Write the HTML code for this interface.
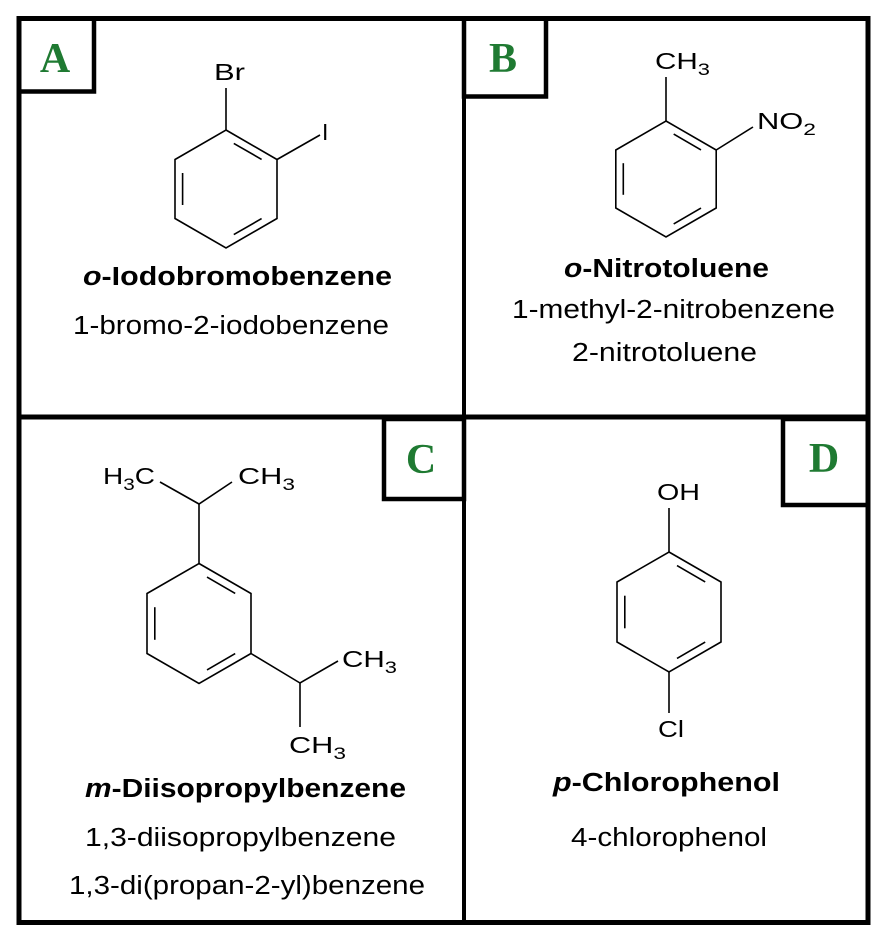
<!DOCTYPE html>
<html><head><meta charset="utf-8"><style>
html,body{margin:0;padding:0;background:#fff;}
svg{display:block;}
.t{font-family:"Liberation Sans",Arial,sans-serif;fill:#000;}
.L{font-family:"Liberation Serif",serif;font-weight:bold;fill:#1f7a32;font-size:42px;}
</style></head><body>
<svg width="893" height="949" viewBox="0 0 893 949" xmlns="http://www.w3.org/2000/svg">
<rect width="893" height="949" fill="#fff"/>
<g fill="none" stroke="#000" stroke-linecap="square">
<rect x="19" y="18.5" width="849" height="904" stroke-width="5"/>
<line x1="464" y1="18" x2="464" y2="922" stroke-width="4"/>
<line x1="19" y1="417" x2="868" y2="417" stroke-width="5"/>
<rect x="19" y="18.5" width="75" height="73" stroke-width="4.5"/>
<rect x="464" y="18.5" width="82" height="78" stroke-width="4.5"/>
<rect x="384" y="419" width="80" height="80" stroke-width="4.5"/>
<rect x="783" y="419" width="85" height="86" stroke-width="4.5"/>
</g>
<text class="L" x="55" y="72" text-anchor="middle">A</text>
<text class="L" x="503" y="72" text-anchor="middle">B</text>
<text class="L" x="421" y="473" text-anchor="middle">C</text>
<text class="L" x="824" y="472" text-anchor="middle">D</text>

<g fill="none" stroke="#000" stroke-width="1.6">
<polygon points="226,130 277,159.5 277,218.5 226,248 175,218.5 175,159.5"/>
<line x1="233.8" y1="143.4" x2="261.6" y2="159.4"/>
<line x1="182.6" y1="173" x2="182.6" y2="205"/>
<line x1="261.6" y1="218.6" x2="233.8" y2="234.6"/>
<line x1="226" y1="130" x2="226" y2="88"/>
<line x1="277" y1="159.5" x2="320" y2="135"/>
<polygon points="666,121 716.2,150 716.2,208 666,237 615.8,208 615.8,150"/>
<line x1="673.7" y1="134.1" x2="701" y2="149.9"/>
<line x1="623.3" y1="163.2" x2="623.3" y2="194.8"/>
<line x1="701" y1="208.1" x2="673.7" y2="223.9"/>
<line x1="666" y1="121" x2="666" y2="77"/>
<line x1="716.2" y1="150" x2="753" y2="127"/>
<polygon points="199,563.5 251,593.5 251,653.5 199,683.5 147,653.5 147,593.5"/>
<line x1="207" y1="577.1" x2="235.2" y2="593.4"/>
<line x1="154.8" y1="607.2" x2="154.8" y2="639.8"/>
<line x1="235.2" y1="653.6" x2="207" y2="669.9"/>
<line x1="199" y1="563.5" x2="199" y2="504"/>
<polyline points="160,482 199,504 232,482"/>
<polyline points="251,653.5 300,683 338,661"/>
<line x1="300" y1="683" x2="300" y2="727"/>
<polygon points="669,552 721,582 721,642 669,672 617,642 617,582"/>
<line x1="677" y1="565.6" x2="705.2" y2="581.9"/>
<line x1="624.8" y1="595.7" x2="624.8" y2="628.3"/>
<line x1="705.2" y1="642.1" x2="677" y2="658.4"/>
<line x1="669" y1="552" x2="669" y2="508"/>
<line x1="669" y1="672" x2="669" y2="713"/>
</g>

<g class="t" font-size="23">
<text x="214" y="80" textLength="31" lengthAdjust="spacingAndGlyphs">Br</text>
<text x="322" y="140">I</text>
<text x="655" y="69" textLength="55" lengthAdjust="spacingAndGlyphs">CH<tspan font-size="17" dy="6">3</tspan></text>
<text x="757" y="129" textLength="59" lengthAdjust="spacingAndGlyphs">NO<tspan font-size="17" dy="6">2</tspan></text>
<text x="103" y="484" textLength="52" lengthAdjust="spacingAndGlyphs">H<tspan font-size="17" dy="6">3</tspan><tspan dy="-6">C</tspan></text>
<text x="238" y="484" textLength="57" lengthAdjust="spacingAndGlyphs">CH<tspan font-size="17" dy="6">3</tspan></text>
<text x="342" y="667" textLength="55" lengthAdjust="spacingAndGlyphs">CH<tspan font-size="17" dy="6">3</tspan></text>
<text x="289" y="753" textLength="57" lengthAdjust="spacingAndGlyphs">CH<tspan font-size="17" dy="6">3</tspan></text>
<text x="657" y="500" textLength="43" lengthAdjust="spacingAndGlyphs">OH</text>
<text x="658" y="737" textLength="26" lengthAdjust="spacingAndGlyphs">Cl</text>
</g>

<g class="t" font-size="25.5">
<text x="83" y="285" font-weight="bold" textLength="309" lengthAdjust="spacingAndGlyphs"><tspan font-style="italic">o</tspan>-Iodobromobenzene</text>
<text x="73" y="334" textLength="316" lengthAdjust="spacingAndGlyphs">1-bromo-2-iodobenzene</text>
<text x="564" y="277" font-weight="bold" textLength="205" lengthAdjust="spacingAndGlyphs"><tspan font-style="italic">o</tspan>-Nitrotoluene</text>
<text x="512" y="318" textLength="323" lengthAdjust="spacingAndGlyphs">1-methyl-2-nitrobenzene</text>
<text x="572" y="361" textLength="185" lengthAdjust="spacingAndGlyphs">2-nitrotoluene</text>
<text x="85" y="797" font-weight="bold" textLength="321" lengthAdjust="spacingAndGlyphs"><tspan font-style="italic">m</tspan>-Diisopropylbenzene</text>
<text x="85" y="846" textLength="311" lengthAdjust="spacingAndGlyphs">1,3-diisopropylbenzene</text>
<text x="69" y="894" textLength="356" lengthAdjust="spacingAndGlyphs">1,3-di(propan-2-yl)benzene</text>
<text x="553" y="791" font-weight="bold" textLength="227" lengthAdjust="spacingAndGlyphs"><tspan font-style="italic">p</tspan>-Chlorophenol</text>
<text x="571" y="846" textLength="196" lengthAdjust="spacingAndGlyphs">4-chlorophenol</text>
</g>
</svg>
</body></html>
